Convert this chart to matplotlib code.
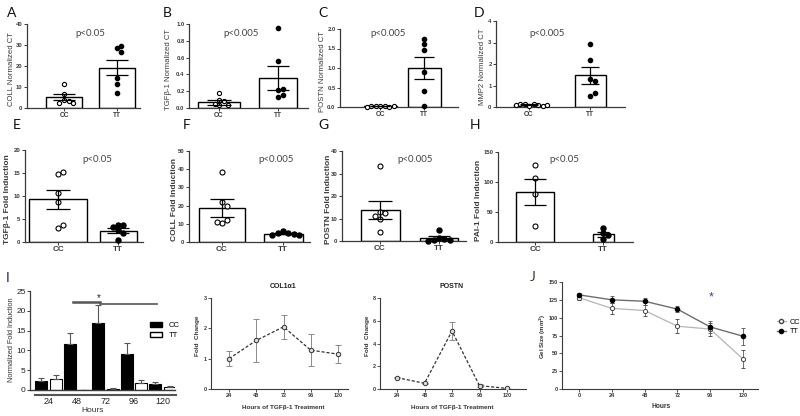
import numpy as np
import matplotlib
matplotlib.use('Agg')
import matplotlib.pyplot as plt
from matplotlib.patches import Patch
from matplotlib.lines import Line2D
import matplotlib.transforms as mtransforms

plt.rcParams['font.family'] = ['Liberation Sans', 'DejaVu Sans']

# ---------------- data ----------------
groups = ['CC', 'TT']

# A  COLL normalized CT
a_cc = [11.5, 6.5, 4.0, 3.5, 2.3, 2.5]
a_tt = [28.5, 29.3, 26.5, 14.5, 11.5, 7.2]
a_mean = [5.1, 19.2]
a_sem = [1.5, 3.7]

# B  TGFb-1 normalized CT
b_cc = [0.18, 0.09, 0.08, 0.05, 0.03, 0.03]
b_tt = [0.95, 0.56, 0.22, 0.23, 0.13, 0.16]
b_mean = [0.07, 0.36]
b_sem = [0.03, 0.14]

# C  POSTN normalized CT
c_cc = [0.03, 0.02, 0.02, 0.01, 0.02, 0.03, 0.01]
c_tt = [1.74, 1.62, 1.47, 0.89, 0.40, 0.03]
c_mean = [0.02, 1.0]
c_sem = [0.005, 0.29]

# D  MMP2 normalized CT
d_cc = [0.06, 0.15, 0.13, 0.10, 0.12, 0.05, 0.08, 0.11]
d_tt = [2.95, 2.2, 1.3, 1.2, 0.52, 0.65]
d_mean = [0.1, 1.47]
d_sem = [0.02, 0.38]

# E  TGFb-1 fold induction
e_cc = [14.8, 15.3, 10.7, 8.7, 3.1, 3.8]
e_tt = [3.8, 3.7, 3.2, 2.6, 2.0, 0.4]
e_mean = [9.3, 2.5]
e_sem = [2.1, 0.5]

# F  COLL fold induction
f_cc = [38.7, 21.9, 20.0, 10.4, 11.9, 10.8]
f_tt = [6.0, 5.2, 4.8, 4.5, 4.0, 3.8]
f_mean = [18.6, 4.6]
f_sem = [4.8, 0.4]

# G  POSTN fold induction
g_cc = [33.3, 12.9, 12.5, 9.9, 11.1, 4.0]
g_tt = [5.0, 1.5, 1.0, 0.6, 0.3, 0.2]
g_mean = [13.7, 1.4]
g_sem = [4.0, 0.7]

# H  PAI-1 fold induction
h_cc = [127.8, 106.7, 80.6, 26.1]
h_tt = [24, 15, 12, 5]
h_mean = [83.3, 13.0]
h_sem = [22.0, 4.5]

# I  time course bars
hours = ['24', '48', '72', '96', '120']
i_cc = [2.3, 11.7, 16.8, 9.2, 1.5]
i_cc_err = [0.7, 2.6, 4.7, 2.7, 0.5]
i_tt = [2.9, 0.0, 0.3, 1.8, 0.8]
i_tt_err = [0.9, 0.0, 0.1, 0.6, 0.1]

# COL1a1 / POSTN fold change
tgf_hours = [24, 48, 72, 96, 120]
col_mean = [1.0, 1.6, 2.05, 1.28, 1.15]
col_err = [0.25, 0.7, 0.4, 0.53, 0.3]
postn_mean = [1.0, 0.5, 5.1, 0.3, 0.05]
postn_err = [0.05, 0.05, 0.8, 0.1, 0.05]

# J  gel size
gel_hours = [0, 24, 48, 72, 96, 120]
gel_cc = [128, 113, 110, 88, 84, 42]
gel_cc_err = [3, 8, 8, 10, 9, 12]
gel_tt = [132, 125, 123, 112, 87, 74]
gel_tt_err = [3, 5, 5, 4, 8, 12]

# ---------------- layout helpers ----------------
W, H = 800, 416
fig = plt.figure(figsize=(8, 4.16), dpi=100)
AXC = '#3a3a3a'
TXT = '#444444'


def rect(x0, y0, x1, y1):
    return [x0 / W, 1 - y1 / H, (x1 - x0) / W, (y1 - y0) / H]


def ftext(x, y, s, **kw):
    fig.text(x / W, 1 - y / H, s, **kw)


def style_axes(ax, lw=0.9):
    for side in ['top', 'right']:
        ax.spines[side].set_visible(False)
    for side in ['left', 'bottom']:
        ax.spines[side].set_color(AXC)
        ax.spines[side].set_linewidth(lw)
    ax.tick_params(colors=AXC, width=0.7, length=2.2, pad=1)


def swarm(ax, xc, vals, d_px):
    # spread overlapping points sideways, like a prism scatter dot plot
    pts = ax.transData.transform([(xc, v) for v in vals])
    placed = []
    for px, py in pts:
        for k in range(0, 20):
            off = ((k + 1) // 2) * d_px * (1 if k % 2 else -1) if k else 0
            cx = px + off
            if all((cx - qx) ** 2 + (py - qy) ** 2 >= (d_px * 0.95) ** 2 for qx, qy in placed):
                placed.append((cx, py))
                break
    inv = ax.transData.inverted()
    return [inv.transform(p) for p in placed]


def dot_panel(box, centers, widths, ymax, ystep, yfmt, cc, tt, mean, sem,
              ylabel, ylab_x, letter, letter_xy, ptxt, ptxt_xy, big=False):
    x0, y0, x1, y1 = box
    ax = fig.add_axes(rect(*box))
    unit = centers[1] - centers[0]
    ax.set_xlim((x0 - centers[0]) / unit, (x1 - centers[0]) / unit)
    ax.set_ylim(0, ymax)
    style_axes(ax)
    bw = [w / unit for w in widths]
    ax.bar([0, 1], mean, width=bw, color='white', edgecolor='black', linewidth=1.0, zorder=2)
    ms = 5.0 if big else 4.2
    for i, vals in enumerate([cc, tt]):
        pos = swarm(ax, i, vals, ms + 0.3)
        xs = [p[0] for p in pos]
        ys = [p[1] for p in pos]
        if i == 0:
            ax.scatter(xs, ys, s=(ms * 0.72) ** 2, facecolor='white', edgecolor='black',
                       linewidth=0.8, zorder=3, clip_on=False)
        else:
            ax.scatter(xs, ys, s=(ms * 0.72) ** 2, color='black', zorder=3, clip_on=False)
        cap = min(widths[i], 40) * 0.3 * 0.72
        ax.errorbar(i, mean[i], yerr=sem[i], color='black', capsize=cap, elinewidth=0.9,
                    capthick=0.9, zorder=4)
    ax.set_xticks([0, 1])
    ax.set_xticklabels(groups, fontsize=5.8 if big else 4.8, fontweight='bold', color=AXC)
    ticks = np.arange(0, ymax + ystep / 2, ystep)
    ax.set_yticks(ticks)
    ax.set_yticklabels([yfmt % t for t in ticks], fontsize=4.3 if big else 4.2,
                       fontweight='bold', color=AXC)
    ftext(ylab_x, (y0 + y1) / 2 + 3, ylabel, rotation=90, ha='center', va='center',
          fontsize=6.0 if big else 5.6, fontweight='bold' if big else 'normal', color=AXC)
    ftext(letter_xy[0], letter_xy[1], letter, ha='center', va='center', fontsize=10,
          family=['Lato', 'DejaVu Sans'], color='#111111')
    ftext(ptxt_xy[0], ptxt_xy[1], ptxt, ha='center', va='center', fontsize=7,
          family=['Lato', 'DejaVu Sans'], color=TXT)
    return ax


# ---------------- row 1 ----------------
dot_panel((27, 24, 140, 108), (64, 117), (36, 36), 40, 10, '%d', a_cc, a_tt, a_mean, a_sem,
          'COLL Normalized CT', 12, 'A', (12, 13), 'p<0.05', (90, 33))
dot_panel((189, 24, 308, 108), (219, 278), (42, 38), 1.0, 0.2, '%.1f', b_cc, b_tt, b_mean, b_sem,
          'TGF\u03b2-1 Normalized CT', 168, 'B', (167, 13), 'p<0.005', (241, 33))
dot_panel((340, 29, 458, 107), (380, 424), (33, 33), 2.0, 0.5, '%.1f', c_cc, c_tt, c_mean, c_sem,
          'POSTN Normalized CT', 323, 'C', (323, 13), 'p<0.005', (388, 33))
dot_panel((496, 21, 625, 107), (529, 590), (31, 31), 4, 1, '%d', d_cc, d_tt, d_mean, d_sem,
          'MMP2 Normalized CT', 483, 'D', (479, 13), 'p<0.005', (547, 33))

# ---------------- row 2 ----------------
dot_panel((25, 150, 143, 242), (58, 118), (58, 37), 20, 5, '%d', e_cc, e_tt, e_mean, e_sem,
          'TGF\u03b2-1 Fold Induction', 8, 'E', (17, 125), 'p<0.05', (97, 160), big=True)
dot_panel((189, 151, 310, 242), (222, 283), (46, 39), 50, 10, '%d', f_cc, f_tt, f_mean, f_sem,
          'COLL Fold Induction', 175, 'F', (187, 125), 'p<0.005', (276, 160), big=True)
dot_panel((342, 151, 466, 241), (380, 439), (39, 38), 40, 10, '%d', g_cc, g_tt, g_mean, g_sem,
          'POSTN Fold Induction', 328, 'G', (323, 125), 'p<0.005', (415, 160), big=True)
dot_panel((498, 152, 633, 242), (535, 603), (38, 21), 150, 50, '%d', h_cc, h_tt, h_mean, h_sem,
          'PAI-1 Fold Induction', 478, 'H', (475, 125), 'p<0.05', (564, 160), big=True)

# ---------------- I: time course bars ----------------
ax = fig.add_axes(rect(30, 291, 175, 390))
style_axes(ax)
gx = np.arange(len(hours))
unit = 28.5
ax.set_xlim(-18.5 / unit, (175 - 48.5) / unit)
ax.set_ylim(0, 25)
bw = 12 / unit
ax.bar(gx - 0.26, i_cc, width=bw, color='black', edgecolor='black', linewidth=0.8, zorder=2)
ax.bar(gx + 0.26, i_tt, width=bw, color='white', edgecolor='black', linewidth=0.8, zorder=2)
ax.errorbar(gx - 0.26, i_cc, yerr=[np.zeros(5), i_cc_err], fmt='none', ecolor='#555555',
            elinewidth=0.8, capsize=2.5, capthick=0.8)
ax.errorbar(gx + 0.26, i_tt, yerr=[np.zeros(5), i_tt_err], fmt='none', ecolor='#555555',
            elinewidth=0.8, capsize=2.5, capthick=0.8)
ax.set_yticks([0, 5, 10, 15, 20, 25])
ax.tick_params(axis='y', labelsize=6, labelcolor='#222222')
ax.set_xticks(gx)
ax.set_xticklabels(hours, fontsize=6.5, color='#222222')
ax.tick_params(axis='x', length=0, pad=5)
ax.spines['bottom'].set_linewidth(1.0)
trans = mtransforms.blended_transform_factory(ax.transData, ax.transAxes)
for g in gx:
    ax.plot([g - 0.47, g + 0.47], [-0.05, -0.05], color='#555555', lw=1.5, transform=trans,
            clip_on=False)
# significance bar
ax.plot([0.86, 1.8], [22.1, 22.1], color='#555555', lw=1.8)
ax.plot([1.8, 3.8], [21.7, 21.7], color='#555555', lw=1.2)
ax.text(1.77, 23.2, '*', ha='center', va='center', fontsize=7, color='#222222')
ax.legend(handles=[Patch(facecolor='black', edgecolor='black', label='CC'),
                   Patch(facecolor='white', edgecolor='black', label='TT')],
          loc='center left', bbox_to_anchor=(0.78, 0.6), frameon=False, fontsize=5.5,
          handlelength=1.6, handleheight=0.6, labelspacing=0.4)
ftext(12, 340, 'Normalized Fold Induction', rotation=90, ha='center', va='center',
      fontsize=5.3, color='#333333')
ftext(93, 410, 'Hours', ha='center', va='center', fontsize=6, color='#333333')
ftext(8, 278, 'I', ha='center', va='center', fontsize=10, family=['Lato', 'DejaVu Sans'],
      color='#1f2a44')


# ---------------- COL1a1 and POSTN line panels ----------------
def line_panel(box, x24, x120, ymax, ystep, means, errs, title, title_x, ylab_x):
    x0, y0, x1, y1 = box
    ax = fig.add_axes(rect(*box))
    style_axes(ax, lw=0.8)
    k = (x120 - x24) / 96.0
    ax.set_xlim(24 - (x24 - x0) / k, 120 + (x1 - x120) / k)
    ax.set_ylim(0, ymax)
    ax.errorbar(tgf_hours, means, yerr=errs, fmt='none', ecolor='#8a8a8a', elinewidth=0.7,
                capsize=2, capthick=0.7, zorder=2)
    ax.plot(tgf_hours, means, ls=(0, (2.5, 1.5)), color='#333333', lw=0.9, marker='o',
            ms=3.2, mfc='#dddddd', mec='#333333', mew=0.7, zorder=3)
    ax.set_xticks(tgf_hours)
    ax.set_yticks(np.arange(0, ymax + ystep / 2, ystep))
    ax.tick_params(labelsize=4, width=0.6, length=2)
    for lab in ax.get_xticklabels() + ax.get_yticklabels():
        lab.set_fontweight('bold')
    ftext(title_x, 287, title, ha='center', va='center', fontsize=5, fontweight='bold',
          color='#222222')
    ftext(title_x, 407, 'Hours of TGF\u03b2-1 Treatment', ha='center', va='center', fontsize=4.6,
          fontweight='bold', color='#333333')
    ftext(ylab_x, 336, 'Fold  Change', rotation=90, ha='center', va='center', fontsize=4.6,
          fontweight='bold', color='#333333')


line_panel((211, 298, 348, 389), 229, 338, 3, 1, col_mean, col_err, 'COL1\u03b11', 283, 198)
line_panel((380, 298, 526, 389), 397, 507, 8, 2, postn_mean, postn_err, 'POSTN', 452, 367)

# ---------------- J: gel size ----------------
ax = fig.add_axes(rect(562, 282, 758, 389))
style_axes(ax, lw=0.8)
k = (743 - 579) / 120.0
ax.set_xlim(0 - (579 - 562) / k, 120 + (758 - 743) / k)
ax.set_ylim(0, 150)
ax.errorbar(gel_hours, gel_tt, yerr=gel_tt_err, color='#6e6e6e', lw=1.0, marker='o', ms=3,
            mfc='black', mec='black', ecolor='#555555', elinewidth=0.6, capsize=1.5,
            capthick=0.6, zorder=3)
ax.errorbar(gel_hours, gel_cc, yerr=gel_cc_err, color='#b5b5b5', lw=0.9, marker='o', ms=3,
            mfc='white', mec='#444444', mew=0.7, ecolor='#555555', elinewidth=0.6, capsize=1.5,
            capthick=0.6, zorder=2)
ax.set_xticks(gel_hours)
ax.set_yticks([0, 25, 50, 75, 100, 125, 150])
ax.tick_params(labelsize=4, width=0.6, length=2)
for lab in ax.get_xticklabels() + ax.get_yticklabels():
    lab.set_fontweight('bold')
ax.text(97, 128, '*', ha='center', va='center', fontsize=9, color='#3a4a7a')
ftext(661, 406, 'Hours', ha='center', va='center', fontsize=4.8, fontweight='bold',
      color='#333333')
ftext(543, 336, 'Gel Size (mm$^{\\mathbf{2}}$)', rotation=90, ha='center', va='center',
      fontsize=4.4, fontweight='bold', color='#333333')
ftext(533, 277, 'J', ha='center', va='center', fontsize=10, family=['Lato', 'DejaVu Sans'],
      color='#3a3020')
handles = [Line2D([], [], color='#b5b5b5', lw=0.9, marker='o', ms=3, mfc='white', mec='#444444',
                  label='CC'),
           Line2D([], [], color='#6e6e6e', lw=1.0, marker='o', ms=3, mfc='black', mec='black',
                  label='TT')]
fig.legend(handles=handles, loc='center left', bbox_to_anchor=(770 / W, 1 - 327 / H),
           frameon=False, fontsize=5.3, handlelength=1.3, labelspacing=0.3, handletextpad=0.5)

fig.savefig('out.png', dpi=100, facecolor='white')
